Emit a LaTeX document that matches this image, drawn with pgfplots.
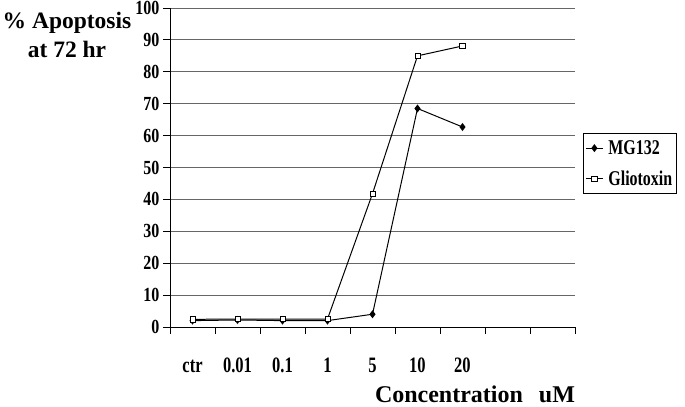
\documentclass[border=0pt]{standalone}
\usepackage{fontspec}
\setmainfont{Liberation Serif}
\newfontfamily\condA[FakeStretch=0.75]{Liberation Serif}
\newfontfamily\condB[FakeStretch=0.8]{Liberation Serif}
\newfontfamily\condC[FakeStretch=0.76]{Liberation Serif}
\usepackage{pgfplots}
\pgfplotsset{compat=1.18}
\begin{document}
\begin{tikzpicture}
\useasboundingbox (0,0) rectangle (685bp,407bp);
\begin{axis}[
  at={(170bp,80bp)}, anchor=south west,
  scale only axis, width=405bp, height=319bp,
  xmin=0, xmax=9, ymin=0, ymax=100,
  axis lines=left, axis line style={-, line width=0.9pt, black},
  xtick={0,1,...,9}, xticklabel=\empty,
  major tick length=7bp, tick align=outside,
  tick style={black, line width=0.8pt},
  extra x ticks={0.5,1.5,2.5,3.5,4.5,5.5,6.5},
  extra x tick labels={ctr,0.01,0.1,1,5,10,20},
  extra x tick style={major tick length=0pt, xticklabel style={anchor=base, yshift=-45bp, font=\condA\bfseries\fontsize{22bp}{22bp}\selectfont}},
  ytick={0,10,...,100},
  ymajorgrids, grid style={gray!80!black, line width=0.9pt},
  yticklabel style={font=\condB\bfseries\fontsize{20bp}{20bp}\selectfont},
  /pgf/number format/assume math mode=true,
  legend style={at={(1.0198,0.608)}, anchor=north west, draw=black, line width=0.8pt,
    font=\condC\bfseries\fontsize{21bp}{21bp}\selectfont,
    inner xsep=2bp, inner ysep=5bp, row sep=11bp,
    /tikz/every odd column/.append style={column sep=3bp}},
  legend cell align=left,
]
\addplot[black, line width=1pt, mark=diamond*, mark size=3.2bp, mark options={solid, fill=black}]
  coordinates {(0.5,2.0) (1.5,2.2) (2.5,2.0) (3.5,2.0) (4.5,4.0) (5.5,68.5) (6.5,62.7)};
\addlegendentry{MG132}
\addplot[black, line width=1pt, mark=square*, mark size=2.6bp, mark options={solid, fill=white, line width=0.8pt}]
  coordinates {(0.5,2.4) (1.5,2.5) (2.5,2.5) (3.5,2.5) (4.5,41.8) (5.5,85.0) (6.5,88.1)};
\addlegendentry{Gliotoxin}
\end{axis}
\node[align=center, inner sep=0pt, anchor=north, font=\bfseries\fontsize{23.5bp}{29bp}\selectfont] at (67bp,395bp) {\% Apoptosis\\at 72 hr};
\node[anchor=base, inner sep=0pt, font=\bfseries\fontsize{24bp}{24bp}\selectfont] at (475bp,4.5bp) {Concentration\hspace{16bp}uM};
\end{tikzpicture}
\end{document}
